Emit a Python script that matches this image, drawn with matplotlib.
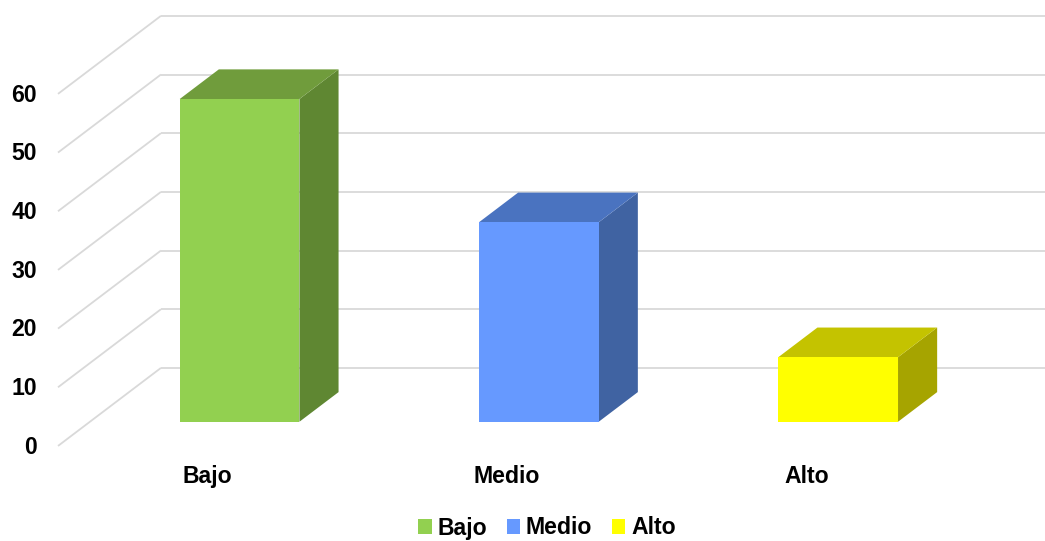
import matplotlib
matplotlib.use('Agg')
import matplotlib.pyplot as plt
from matplotlib.patches import Polygon, Patch

plt.rcParams['font.family'] = ['Liberation Sans', 'DejaVu Sans']
plt.rcParams['font.weight'] = 'bold'

# Data
categories = ['Bajo', 'Medio', 'Alto']
values = [55, 34, 11]
y_ticks = [0, 10, 20, 30, 40, 50, 60]

front_colors = ['#92d050', '#6699ff', '#ffff00']
top_colors = ['#709c3c', '#4a73c0', '#c4c300']
side_colors = ['#5f8732', '#4063a2', '#a6a400']

# Oblique projection: depth d in [0, 1] shifts right and up
KX = 0.344   # x shift per unit depth (category units)
KY = 13.3    # y shift per unit depth (value units)


def proj(x, v, d):
    return (x + d * KX, v + d * KY)


fig = plt.figure(figsize=(10.45, 5.41), dpi=100)
ax = fig.add_axes([0, 0, 1, 1])
ax.set_xlim(-0.1938, 3.2977)
ax.set_ylim(-16.2, 76.0)
ax.axis('off')

grid_kw = dict(color='#d9d9d9', lw=1.3, zorder=1, solid_capstyle='butt')

# Back wall gridlines and left floor/side diagonals
for v in y_ticks:
    x0, y0 = proj(0, v, 0)
    x1, y1 = proj(0, v, 1)
    ax.plot([x0, x1], [y0, y1], **grid_kw)
    ax.plot([x1, 3.4], [y1, y1], **grid_kw)
    ax.text(-0.070, v - 1.31, str(v), ha='right', va='baseline',
            fontsize=16.6, fontweight='bold', color='black')

# Bars as boxes between depth 0.31 and 0.69
d0, d1 = 0.31, 0.69
for i, (cat, val) in enumerate(zip(categories, values)):
    xl, xr = i + 0.3, i + 0.7
    front = [proj(xl, 0, d0), proj(xr, 0, d0), proj(xr, val, d0), proj(xl, val, d0)]
    top = [proj(xl, val, d0), proj(xr, val, d0), proj(xr, val, d1), proj(xl, val, d1)]
    side = [proj(xr, 0, d0), proj(xr, 0, d1), proj(xr, val, d1), proj(xr, val, d0)]
    ax.add_patch(Polygon(side, closed=True, facecolor=side_colors[i], edgecolor='none', zorder=3))
    ax.add_patch(Polygon(top, closed=True, facecolor=top_colors[i], edgecolor='none', zorder=3))
    ax.add_patch(Polygon(front, closed=True, facecolor=front_colors[i], edgecolor='none', zorder=4))
    ax.text(i + 0.5, -6.25, cat, ha='center', va='baseline',
            fontsize=16.6, fontweight='bold', color='black')

handles = [Patch(facecolor=c, edgecolor='none', label=lab)
           for c, lab in zip(front_colors, categories)]
fig.legend(handles=handles, loc='center', bbox_to_anchor=(0.5234, 1 - 528 / 541),
           ncol=3, frameon=False, handlelength=0.58, handleheight=0.58,
           handletextpad=0.25, columnspacing=0.85, borderpad=0.1,
           prop={'size': 16.6, 'weight': 'bold'})

fig.savefig('out.png', dpi=100)
